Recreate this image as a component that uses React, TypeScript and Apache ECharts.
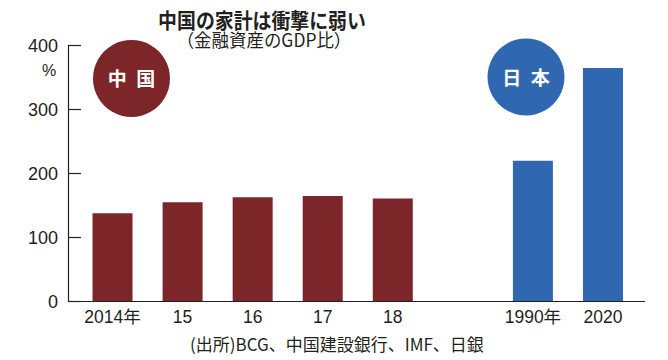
import React, { useEffect, useRef } from "react";
import * as echarts from "echarts";

const categories = ["2014年", "15", "16", "17", "18", "", "1990年", "2020"];
const chinaValues = [138, 155, 163, 165, 161];
const japanValues = [220, 365];
const yTicks = { min: 0, max: 400, interval: 100 };

const titleText = "中国の家計は衝撃に弱い";
const subtitleText = "（金融資産のGDP比）";
const sourceText = "(出所)BCG、中国建設銀行、IMF、日銀";
const unitText = "%";

const MAROON = "#7c2629";
const BLUE = "#2f67b1";
const INK = "#231f20";
const JP = "'Noto Sans CJK JP', 'Liberation Sans', sans-serif";
const NUM = "'Liberation Sans', 'Noto Sans CJK JP', sans-serif";

export default function App() {
  const ref = useRef<HTMLDivElement>(null);
  useEffect(() => {
    if (!ref.current) return;
    const chart = echarts.init(ref.current, null, { renderer: "svg" });
    const barData: any[] = [];
    chinaValues.forEach((v) => barData.push({ value: v, itemStyle: { color: MAROON } }));
    barData.push(null);
    japanValues.forEach((v) => barData.push({ value: v, itemStyle: { color: BLUE } }));

    const gridLeft = 77.5;
    const gridRight = 30;
    const gridTop = 45.5;
    const gridBottom = 58.5;
    const baseY = 360 - gridBottom;

    chart.setOption({
      animation: false,
      backgroundColor: "#ffffff",
      grid: { left: gridLeft, right: gridRight, top: gridTop, bottom: gridBottom, containLabel: false },
      xAxis: {
        type: "category",
        data: categories,
        axisLine: { show: false },
        axisTick: { show: false },
        axisLabel: { color: INK, fontSize: 17.5, fontFamily: NUM, margin: 7, interval: 0 },
      },
      yAxis: {
        type: "value",
        min: yTicks.min,
        max: yTicks.max,
        interval: yTicks.interval,
        offset: 9.5,
        axisLine: { show: true, lineStyle: { color: INK, width: 1.2 } },
        axisTick: { show: true, inside: true, length: 13, lineStyle: { color: INK, width: 1.2 } },
        splitLine: { show: false },
        axisLabel: { color: INK, fontSize: 18, fontFamily: NUM, margin: 10 },
      },
      series: [
        {
          type: "bar",
          data: barData,
          barWidth: 40,
        },
      ],
      graphic: [
        {
          type: "line",
          shape: { x1: gridLeft - 9.5, y1: baseY, x2: 645, y2: baseY },
          style: { stroke: INK, lineWidth: 1.2 },
          z: 10,
        },
        {
          type: "text",
          x: 262,
          y: 19.5,
          scaleX: 0.9,
          style: { text: titleText, fill: INK, font: `bold 21px ${JP}`, textAlign: "center", textVerticalAlign: "middle" },
        },
        {
          type: "text",
          x: 264,
          y: 39,
          scaleX: 0.97,
          style: { text: subtitleText, fill: INK, font: `18px ${JP}`, textAlign: "center", textVerticalAlign: "middle" },
        },
        {
          type: "text",
          x: 49,
          y: 70,
          style: { text: unitText, fill: INK, font: `16px ${NUM}`, textAlign: "center", textVerticalAlign: "middle" },
        },
        {
          type: "text",
          x: 190,
          y: 343,
          style: { text: sourceText, fill: INK, font: `17px ${JP}`, textAlign: "left", textVerticalAlign: "middle" },
        },
        {
          type: "circle",
          shape: { cx: 131.5, cy: 78.5, r: 38.5 },
          style: { fill: MAROON },
        },
        {
          type: "text",
          x: 131.5,
          y: 77,
          style: { text: "中\u2002国", fill: "#ffffff", font: `bold 19px ${JP}`, textAlign: "center", textVerticalAlign: "middle" },
        },
        {
          type: "circle",
          shape: { cx: 526, cy: 77, r: 38.5 },
          style: { fill: BLUE },
        },
        {
          type: "text",
          x: 526,
          y: 76,
          style: { text: "日\u2002本", fill: "#ffffff", font: `bold 19px ${JP}`, textAlign: "center", textVerticalAlign: "middle" },
        },
      ],
    });
    return () => chart.dispose();
  }, []);
  return (
    <div
      ref={ref}
      style={{ position: "fixed", left: 0, top: 0, width: 668, height: 360, background: "#fff" }}
    />
  );
}
